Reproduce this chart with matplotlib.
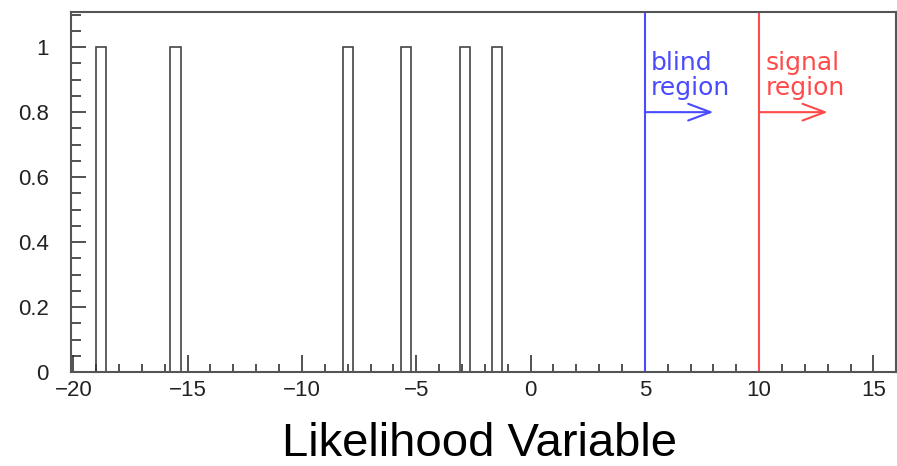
import numpy as np
import matplotlib
matplotlib.use("Agg")
import matplotlib.pyplot as plt
from matplotlib.ticker import MultipleLocator

# histogram bins that have an entry (left edge of the bin) and their contents
bin_left = [-19.0, -15.75, -8.2, -5.68, -3.08, -1.7]
bin_count = [1, 1, 1, 1, 1, 1]
bin_width = 0.45

blind_cut = 5
signal_cut = 10
xticks = [-20, -15, -10, -5, 0, 5, 10, 15]
yticks = [0, 0.2, 0.4, 0.6, 0.8, 1]
ytick_labels = ["0", "0.2", "0.4", "0.6", "0.8", "1"]

plt.rcParams['font.family'] = ['Liberation Sans', 'DejaVu Sans']

fig = plt.figure(figsize=(8.97, 4.66), dpi=100)
ax = fig.add_axes([0.0792, 0.2017, 0.92, 0.7723])

ax.bar(bin_left, bin_count, width=bin_width, align="edge",
       facecolor="white", edgecolor="#444444", linewidth=1.2)

ax.set_xlim(-20.1, 16)
ax.set_ylim(0, 1.108)

# cut lines with arrows and labels
blue = "#4a4aff"
red = "#ff4a4a"
for cut, col, words in [(blind_cut, blue, ["blind", "region"]),
                        (signal_cut, red, ["signal", "region"])]:
    ax.axvline(cut, color=col, lw=1.5)
    ax.annotate("", xy=(cut + 3, 0.8), xytext=(cut, 0.8),
                arrowprops=dict(arrowstyle="->, head_length=0.8, head_width=0.3",
                                color=col, lw=1.5, shrinkA=0, shrinkB=0,
                                mutation_scale=20))
    ax.text(cut + 0.28, 0.929, words[0], color=col, fontsize=18,
            family="DejaVu Sans", va="baseline", ha="left")
    ax.text(cut + 0.28, 0.852, words[1], color=col, fontsize=18,
            family="DejaVu Sans", va="baseline", ha="left")

# ROOT style axes
ax.set_xticks(xticks)
ax.set_xticklabels([str(t).replace("-", "\u2212") for t in xticks])
ax.set_yticks(yticks)
ax.set_yticklabels(ytick_labels)
ax.xaxis.set_minor_locator(MultipleLocator(1))
ax.yaxis.set_minor_locator(MultipleLocator(0.05))
ax.tick_params(axis="x", which="major", direction="in", length=12, width=1.2,
               labelsize=16, pad=6, colors="#333333", labelcolor="#222222")
ax.tick_params(axis="x", which="minor", direction="in", length=6, width=1.2,
               colors="#333333")
ax.tick_params(axis="y", which="major", direction="in", length=11, width=1.2,
               labelsize=16, pad=16, colors="#333333", labelcolor="#222222")
ax.tick_params(axis="y", which="minor", direction="in", length=7.5, width=1.2,
               colors="#333333")
for side in ["left", "bottom", "top", "right"]:
    ax.spines[side].set_linewidth(1.5)
    ax.spines[side].set_color("#555555")

fig.text(0.535, 0.022, "Likelihood Variable", fontsize=34, ha="center",
         va="baseline", color="black")

plt.savefig("out.png", dpi=100)
